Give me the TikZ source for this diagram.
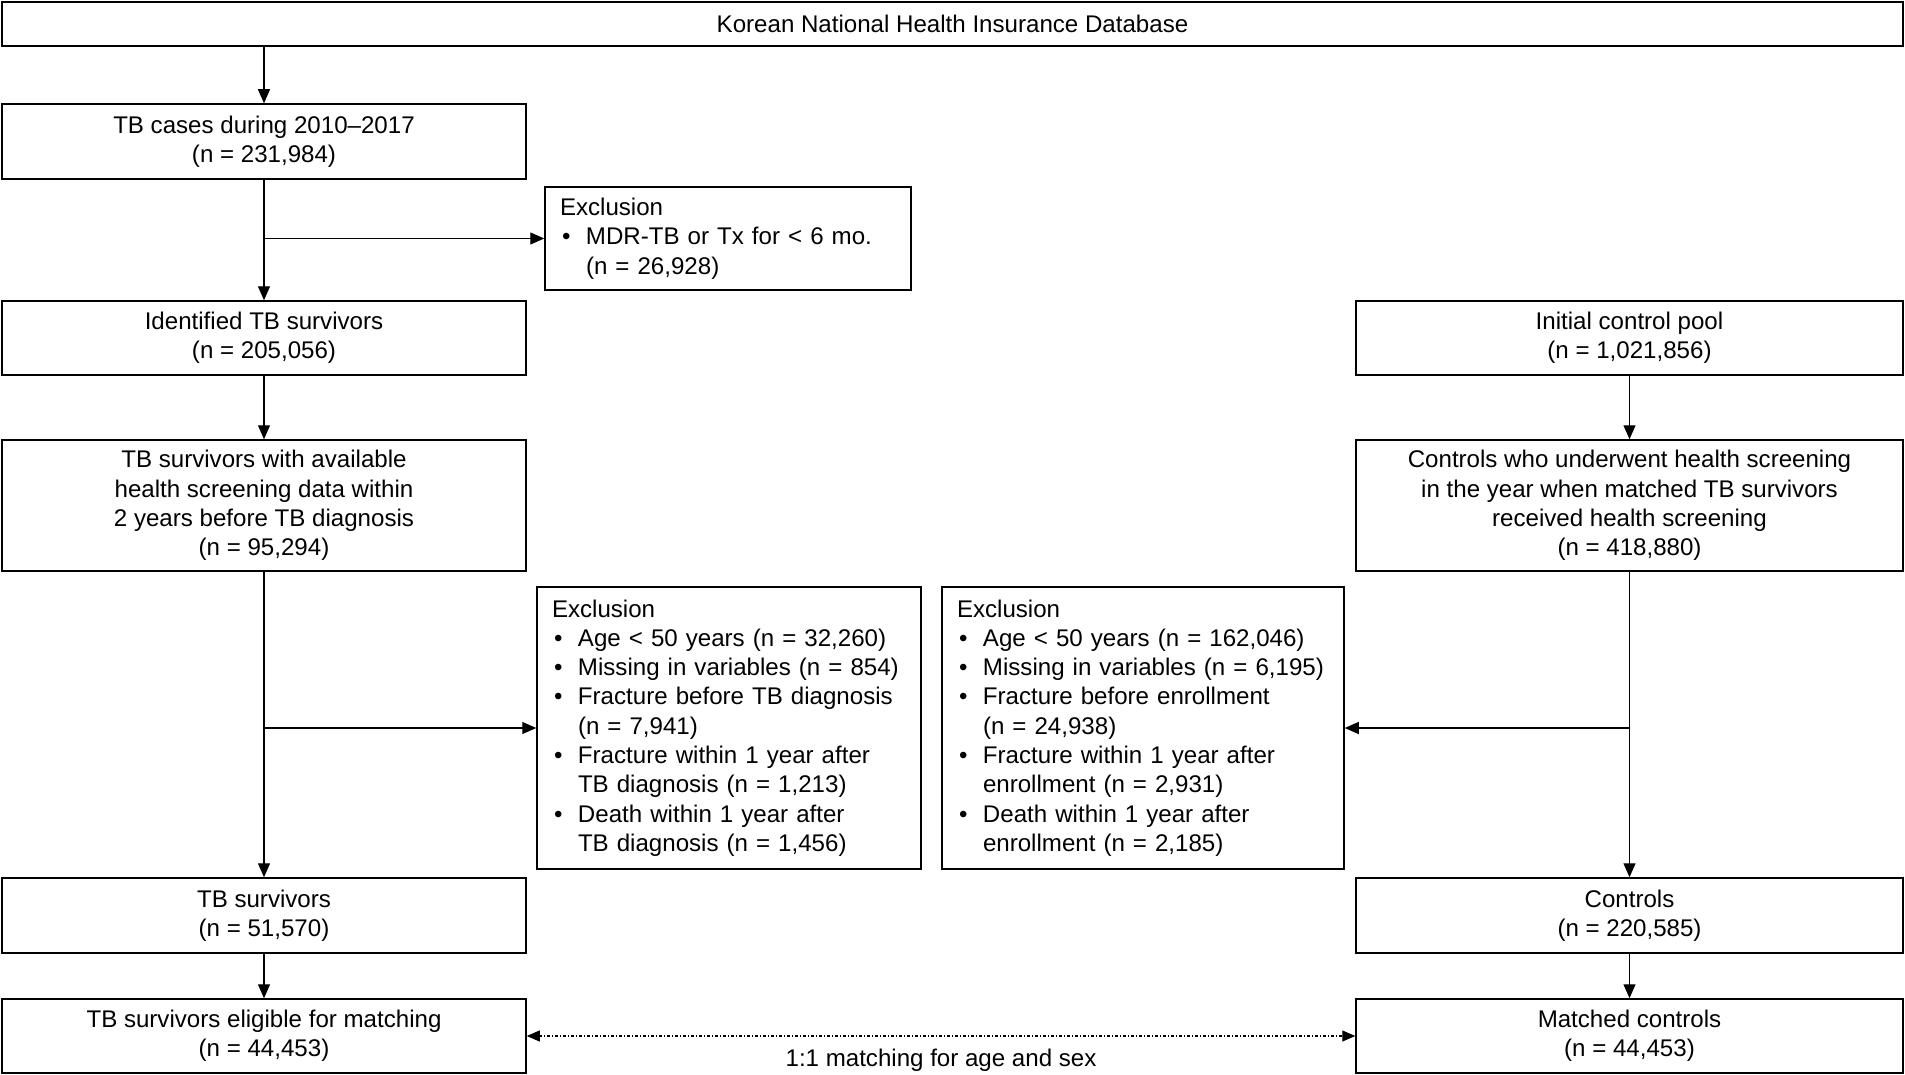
\documentclass[tikz,border=0pt]{standalone}
\usepackage{fontspec}
\setmainfont{Liberation Sans}
\usetikzlibrary{arrows.meta}
\newcommand{\myfs}{\fontsize{24.1}{29.3}\selectfont}
\newcommand{\bitem}[1]{\makebox[26pt][l]{\hspace{2pt}\textbullet}#1}
\newcommand{\bcont}[1]{\hspace*{26pt}#1}
\begin{document}
\begin{tikzpicture}[x=1pt,y=-1pt,
  box/.style={draw, line width=1.5pt, inner sep=0pt, align=center, font=\myfs},
  exbox/.style={draw, line width=1.5pt, inner xsep=15pt, inner ysep=0pt, align=left, font=\myfs},
  arr/.style={line width=1.3pt, -{Triangle[length=14pt,width=12pt]}},
  dotarr/.style={line width=1.1pt, dash pattern=on 3pt off 2pt on 1pt off 2pt,
    {Triangle[length=13pt,width=11pt]}-{Triangle[length=13pt,width=11pt]}}]
\useasboundingbox (0,0) rectangle (1905,1075);
% left column
\node[box, minimum width=1901pt, minimum height=44pt] (db) at (952.5,24) {Korean National Health Insurance Database};
\node[box, minimum width=524pt, minimum height=75pt] (cases) at (264,141.5) {TB cases during 2010–2017\\(n = 231,984)};
\node[exbox, minimum width=366pt, text width=336pt, minimum height=103pt] (ex1) at (728,238.5)
  {Exclusion\\\bitem{MDR-TB or Tx for < 6 mo.}\\\bcont{(n = 26,928)}};
\node[box, minimum width=524pt, minimum height=74pt] (ident) at (264,338) {Identified TB survivors\\(n = 205,056)};
\node[box, minimum width=524pt, minimum height=131pt] (avail) at (264,505.5)
  {TB survivors with available\\health screening data within\\2 years before TB diagnosis\\(n = 95,294)};
\node[exbox, minimum width=384pt, text width=354pt, minimum height=282pt] (ex2) at (729,728)
  {Exclusion\\
   \bitem{Age < 50 years (n = 32,260)}\\
   \bitem{Missing in variables (n = 854)}\\
   \bitem{Fracture before TB diagnosis}\\
   \bcont{(n = 7,941)}\\
   \bitem{Fracture within 1 year after}\\
   \bcont{TB diagnosis (n = 1,213)}\\
   \bitem{Death within 1 year after}\\
   \bcont{TB diagnosis (n = 1,456)}};
\node[box, minimum width=524pt, minimum height=75pt] (surv) at (264,915.5) {TB survivors\\(n = 51,570)};
\node[box, minimum width=524pt, minimum height=74pt] (elig) at (264,1036) {TB survivors eligible for matching\\(n = 44,453)};
% right column
\node[box, minimum width=547pt, minimum height=74pt] (pool) at (1629.5,338) {Initial control pool\\(n = 1,021,856)};
\node[box, minimum width=547pt, minimum height=131pt] (cscr) at (1629.5,505.5)
  {Controls who underwent health screening\\in the year when matched TB survivors\\received health screening\\(n = 418,880)};
\node[exbox, minimum width=402pt, text width=372pt, minimum height=282pt] (ex3) at (1143,728)
  {Exclusion\\
   \bitem{Age < 50 years (n = 162,046)}\\
   \bitem{Missing in variables (n = 6,195)}\\
   \bitem{Fracture before enrollment}\\
   \bcont{(n = 24,938)}\\
   \bitem{Fracture within 1 year after}\\
   \bcont{enrollment (n = 2,931)}\\
   \bitem{Death within 1 year after}\\
   \bcont{enrollment (n = 2,185)}};
\node[box, minimum width=547pt, minimum height=75pt] (ctrls) at (1629.5,915.5) {Controls\\(n = 220,585)};
\node[box, minimum width=547pt, minimum height=74pt] (matched) at (1629.5,1036) {Matched controls\\(n = 44,453)};
\node[font=\myfs, inner sep=0pt] (lbl) at (941,1060) {1:1 matching for age and sex};
% connectors
\draw[arr] (cases.north |- db.south) -- (cases.north);
\draw[arr] (cases.south) -- (ident.north);
\draw[arr] (cases.south |- ex1.west) -- (ex1.west);
\draw[arr] (ident.south) -- (avail.north);
\draw[arr] (avail.south) -- (surv.north);
\draw[arr] (avail.south |- ex2.west) -- (ex2.west);
\draw[arr] (surv.south) -- (elig.north);
\draw[arr] (pool.south) -- (cscr.north);
\draw[arr] (cscr.south) -- (ctrls.north);
\draw[arr] (cscr.south |- ex3.east) -- (ex3.east);
\draw[arr] (ctrls.south) -- (matched.north);
\draw[dotarr] (elig.east) -- (matched.west);
\end{tikzpicture}
\end{document}
